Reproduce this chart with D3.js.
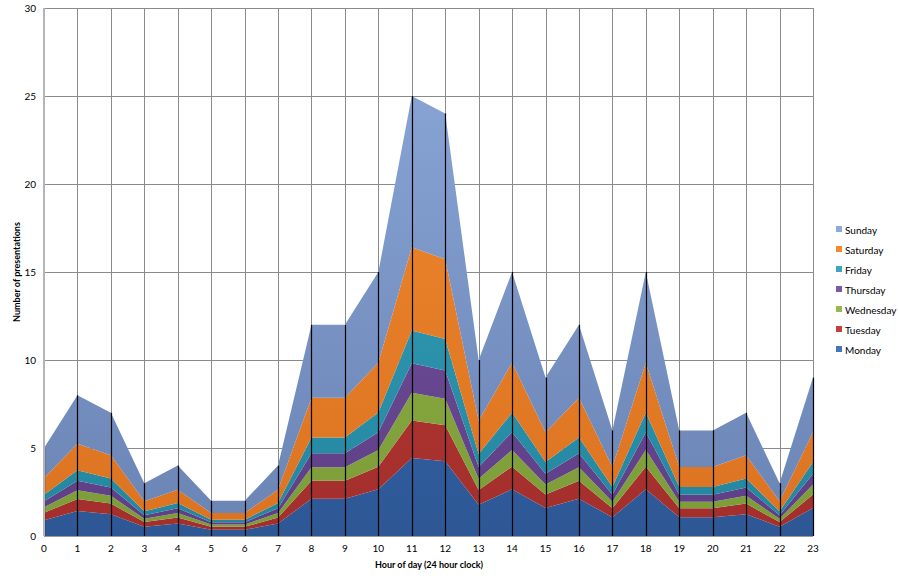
<!DOCTYPE html>
<html><head><meta charset="utf-8">
<script src="https://cdn.jsdelivr.net/npm/d3@7"></script>
<style>
body{margin:0;background:#fff;}
text{font-family:Lato,"Open Sans",sans-serif;}
</style></head>
<body>
<svg id="c" width="899" height="579"></svg>
<script>
const hours = [0,1,2,3,4,5,6,7,8,9,10,11,12,13,14,15,16,17,18,19,20,21,22,23];
const monday    = [0.89,1.42,1.24,0.53,0.71,0.35,0.35,0.71,2.12,2.12,2.66,4.43,4.25,1.77,2.66,1.59,2.12,1.06,2.66,1.06,1.06,1.24,0.53,1.59];
const tuesday   = [0.43,0.68,0.60,0.26,0.34,0.17,0.17,0.34,1.02,1.02,1.28,2.13,2.04,0.85,1.28,0.77,1.02,0.51,1.28,0.51,0.51,0.60,0.26,0.77];
const wednesday = [0.32,0.50,0.44,0.19,0.25,0.13,0.13,0.25,0.76,0.76,0.95,1.58,1.51,0.63,0.95,0.57,0.76,0.38,0.95,0.38,0.38,0.44,0.19,0.57];
const thursday  = [0.34,0.54,0.47,0.20,0.27,0.13,0.13,0.27,0.80,0.80,1.01,1.68,1.61,0.67,1.01,0.60,0.80,0.40,1.01,0.40,0.40,0.47,0.20,0.60];
const friday    = [0.37,0.59,0.52,0.22,0.30,0.15,0.15,0.30,0.89,0.89,1.11,1.85,1.78,0.74,1.11,0.67,0.89,0.44,1.11,0.44,0.44,0.52,0.22,0.67];
const saturday  = [0.95,1.51,1.32,0.57,0.76,0.38,0.38,0.76,2.27,2.27,2.84,4.73,4.54,1.89,2.84,1.70,2.27,1.13,2.84,1.13,1.13,1.32,0.57,1.70];
const sunday    = [1.70,2.76,2.41,1.03,1.37,0.69,0.69,1.37,4.14,4.14,5.15,8.60,8.27,3.45,5.15,3.10,4.14,2.08,5.15,2.08,2.08,2.41,1.03,3.10];
const seriesNames = ["Monday","Tuesday","Wednesday","Thursday","Friday","Saturday","Sunday"];
const seriesValues = [monday,tuesday,wednesday,thursday,friday,saturday,sunday];
const yTicks = [0,5,10,15,20,25,30];
const colorsTop = ["#4276bd","#c0413c","#97b84c","#7a58a3","#3aa6c2","#f28b30","#8ca9d9"];
const colorsBot = ["#2d5795","#a32e2b","#7c9c38","#5e3f86","#23869f","#db7321","#6a84b4"];

const svg = d3.select("#c");
const L = 44, R = 813, T = 8, B = 536;
const x = d3.scaleLinear().domain([0,23]).range([L,R]);
const y = d3.scaleLinear().domain([0,30]).range([B,T]);

const rows = hours.map((h,i)=>{const o={hour:h}; seriesNames.forEach((n,k)=>o[n]=seriesValues[k][i]); return o;});
const stacked = d3.stack().keys(seriesNames)(rows);

const defs = svg.append("defs");
seriesNames.forEach((n,k)=>{
  const g = defs.append("linearGradient").attr("id","g"+k).attr("gradientUnits","userSpaceOnUse")
    .attr("x1",0).attr("x2",0).attr("y1",T).attr("y2",B);
  g.append("stop").attr("offset","0").attr("stop-color",colorsTop[k]);
  g.append("stop").attr("offset","1").attr("stop-color",colorsBot[k]);
});

// gridlines
svg.append("g").selectAll("line").data(yTicks).join("line")
  .attr("x1",L).attr("x2",R).attr("y1",d=>y(d)+0.5).attr("y2",d=>y(d)+0.5)
  .attr("stroke","#8a8a8a").attr("stroke-width",1);
svg.append("g").selectAll("line").data(hours).join("line")
  .attr("x1",d=>Math.round(x(d))+0.5).attr("x2",d=>Math.round(x(d))+0.5).attr("y1",T).attr("y2",B)
  .attr("stroke","#8a8a8a").attr("stroke-width",1);

// areas
const area = d3.area().x(d=>x(d.data.hour)).y0(d=>y(d[0])).y1(d=>y(d[1]));
svg.append("g").selectAll("path").data(stacked).join("path")
  .attr("d",area).attr("fill",(d,k)=>"url(#g"+k+")");

// drop lines
const totals = hours.map((h,i)=>d3.sum(seriesValues,s=>s[i]));
svg.append("g").selectAll("line").data(hours).join("line")
  .attr("x1",d=>Math.round(x(d))+0.5).attr("x2",d=>Math.round(x(d))+0.5)
  .attr("y1",(d,i)=>y(totals[i])).attr("y2",B)
  .attr("stroke","#000").attr("stroke-width",1.2);

// axis lines
svg.append("line").attr("x1",L).attr("x2",L).attr("y1",T).attr("y2",B).attr("stroke","#b5b5b5").attr("stroke-width",2);
svg.append("line").attr("x1",L).attr("x2",R).attr("y1",B+0.5).attr("y2",B+0.5).attr("stroke","#9a9a9a").attr("stroke-width",1);

// y tick labels
svg.append("g").selectAll("text").data(yTicks).join("text")
  .attr("x",36).attr("y",d=>y(d)).attr("dy","0.35em").attr("text-anchor","end")
  .attr("font-size",10).attr("fill","#000").text(d=>d);
// x tick labels
svg.append("g").selectAll("text").data(hours).join("text")
  .attr("x",d=>x(d)).attr("y",552).attr("text-anchor","middle")
  .attr("font-size",10).attr("fill","#000").text(d=>d);

// titles
svg.append("text").attr("x",429).attr("y",568).attr("text-anchor","middle")
  .attr("font-size",9).attr("font-weight","bold").text("Hour of day (24 hour clock)");
svg.append("text").attr("transform","translate(20,272) rotate(-90)").attr("text-anchor","middle")
  .attr("font-size",9).attr("font-weight","bold").text("Number of presentations");

// legend
const legendOrder = seriesNames.map((n,k)=>k).reverse();
const lg = svg.append("g");
legendOrder.forEach((k,j)=>{
  const yy = 230 + j*20;
  lg.append("rect").attr("x",836).attr("y",yy-4).attr("width",6).attr("height",6).attr("fill",colorsTop[k]);
  lg.append("text").attr("x",845).attr("y",yy).attr("dy","0.35em").attr("font-size",10).text(seriesNames[k]);
});
</script>
</body></html>
